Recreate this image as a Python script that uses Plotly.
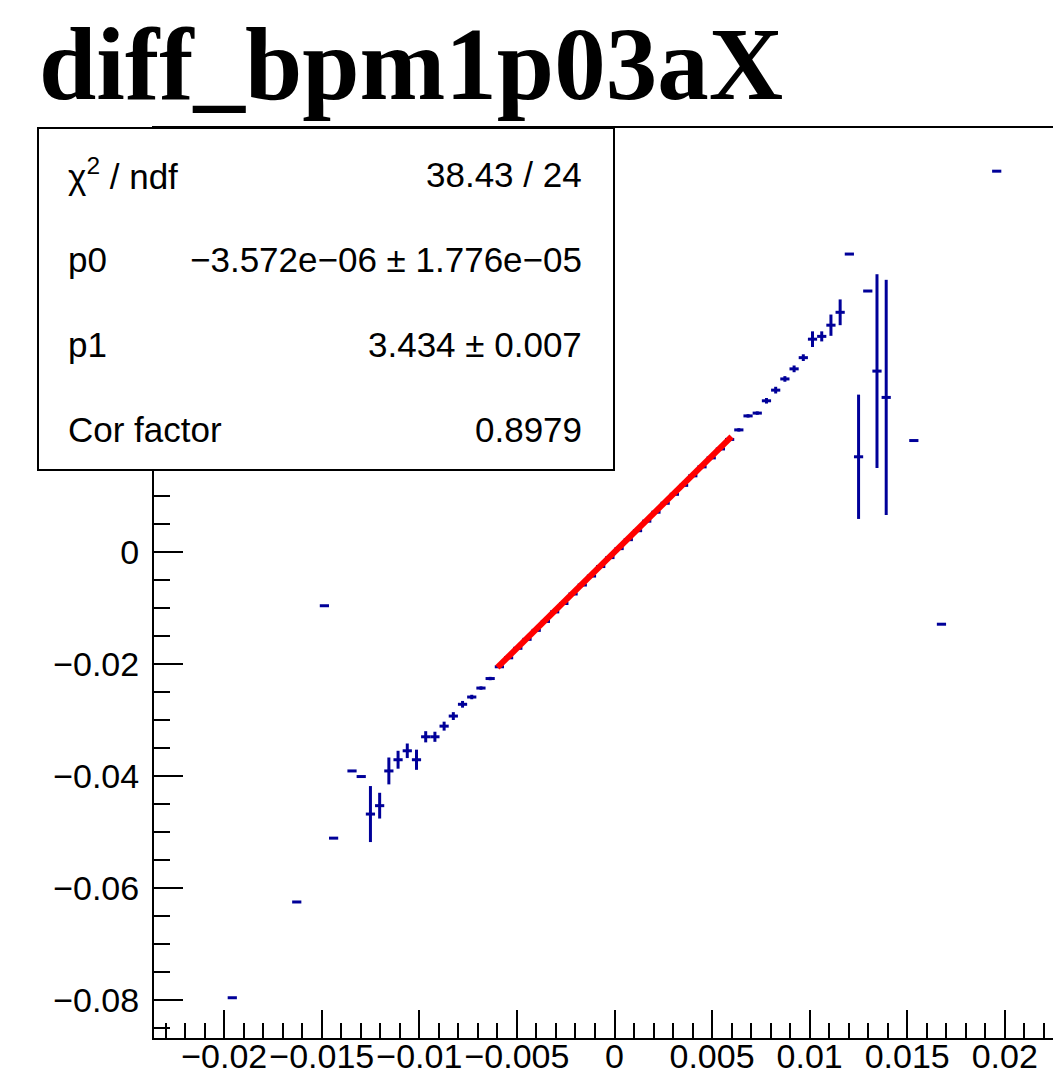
import plotly.graph_objects as go

# ---- data ----
bin_x = [-0.019588, -0.016284, -0.014868, -0.014396, -0.013452, -0.012980, -0.012508,
         -0.012036, -0.011564, -0.011092, -0.010620, -0.010148, -0.009676, -0.009204,
         -0.008732, -0.008260, -0.007788, -0.007316, -0.006844, -0.006372,
         -0.005900, -0.005428, -0.004956, -0.004484, -0.004012, -0.003540, -0.003068,
         -0.002596, -0.002124, -0.001652, -0.001180, -0.000708, -0.000236,
         0.000236, 0.000708, 0.001180, 0.001652, 0.002124, 0.002596, 0.003068,
         0.003540, 0.004012, 0.004484, 0.004956, 0.005428, 0.005900,
         0.006372, 0.006844, 0.007316, 0.007788, 0.008260, 0.008732, 0.009204,
         0.009676, 0.010148, 0.010620, 0.011092, 0.011564, 0.012036, 0.012508,
         0.012980, 0.013452, 0.013924, 0.015340, 0.016756, 0.019588]

mean_y = [-0.0796, -0.0625, -0.0096, -0.0511, -0.0391, -0.0401, -0.0468,
          -0.0453, -0.0391, -0.0371, -0.0355, -0.0371, -0.0330, -0.0330,
          -0.0311, -0.0293, -0.0272, -0.0259, -0.0243, -0.0226,
          -0.0205, -0.0189, -0.0172, -0.0156, -0.0140, -0.0124, -0.0107,
          -0.0092, -0.0075, -0.0059, -0.0043, -0.0026, -0.0010,
          0.0006, 0.0022, 0.0038, 0.0055, 0.0071, 0.0087, 0.0103,
          0.0119, 0.0136, 0.0152, 0.0168, 0.0184, 0.0201,
          0.0218, 0.0243, 0.0248, 0.0270, 0.0289, 0.0309, 0.0327,
          0.0347, 0.0380, 0.0385, 0.0405, 0.0428, 0.0532, 0.0170,
          0.0466, 0.0323, 0.0276, 0.0199, -0.0129, 0.0680]

err_y = [0.0, 0.0, 0.0, 0.0, 0.0, 0.0, 0.0050,
         0.0023, 0.0024, 0.0016, 0.0013, 0.0018, 0.0010, 0.0009,
         0.0008, 0.0007, 0.0006, 0.0004, 0.0003, 0.0003,
         0.0002, 0.0002, 0.0002, 0.0002, 0.0002, 0.0002, 0.0002,
         0.0002, 0.0002, 0.0002, 0.0002, 0.0002, 0.0002,
         0.0002, 0.0002, 0.0002, 0.0002, 0.0002, 0.0002, 0.0002,
         0.0002, 0.0002, 0.0002, 0.0002, 0.0002, 0.0002,
         0.0003, 0.0003, 0.0003, 0.0005, 0.0006, 0.0005, 0.0006,
         0.0006, 0.0014, 0.0009, 0.0019, 0.0023, 0.0, 0.0111,
         0.0, 0.0173, 0.0210, 0.0, 0.0, 0.0]

bin_half_width = 0.000236
x_limits = [-0.0236, 0.0236]
y_limits = [-0.08679, 0.07571]

fit_range = [-0.006, 0.006]
p0 = -3.572e-06
p1 = 3.434

title_text = "diff_bpm1p03aX"
stat_labels = ["χ<sup>2</sup> / ndf", "p0", "p1", "Cor factor"]
stat_values = ["38.43 / 24", "−3.572e−06 ± 1.776e−05", "3.434 ± 0.007", "0.8979"]

# ---- figure ----
# the page body adds an 8 px margin; the frame runs past the right edge of the view
OFF = 8
W, H = 1070, 1090 - OFF
L, R, T = 154 - OFF, 3, 128 - OFF
plot_bottom = 1038 - OFF
B = H - plot_bottom
pw, ph = W - L - R, H - T - B

def px_x(px):
    return (px - OFF - L) / pw

def px_y(py):
    return (plot_bottom - (py - OFF)) / ph

blue = "#000099"

fig = go.Figure()
fig.add_trace(go.Scatter(
    x=bin_x, y=mean_y, mode="markers",
    marker=dict(size=0.1, color=blue),
    error_x=dict(type="constant", value=bin_half_width, width=0, thickness=3, color=blue),
    error_y=dict(type="data", array=err_y, width=0, thickness=3, color=blue),
    showlegend=False, hoverinfo="x+y"))

fit_y = [p0 + p1 * fit_range[0], p0 + p1 * fit_range[1]]
fig.add_trace(go.Scatter(
    x=fit_range, y=fit_y, mode="lines",
    line=dict(color="#ff0000", width=6), showlegend=False))

tick_font = dict(family="Liberation Sans, Arial, sans-serif", size=34, color="black")

fig.update_xaxes(
    range=x_limits,
    showgrid=False, zeroline=False,
    showline=True, linecolor="black", linewidth=2, mirror=True,
    ticks="inside", ticklen=28, tickwidth=1.5, tickcolor="black",
    tick0=0, dtick=0.005, tickangle=0, tickfont=tick_font, ticklabelstandoff=-13,
    minor=dict(ticks="inside", ticklen=15, tickwidth=1.5, tickcolor="black", dtick=0.001, tick0=0),
)
fig.update_yaxes(
    range=y_limits,
    showgrid=False, zeroline=False,
    showline=True, linecolor="black", linewidth=2,
    ticks="inside", ticklen=29, tickwidth=1.5, tickcolor="black",
    tick0=0, dtick=0.02, tickfont=tick_font, ticklabelstandoff=6,
    minor=dict(ticks="inside", ticklen=16, tickwidth=1.5, tickcolor="black", dtick=0.005, tick0=0),
)

# stat box
fig.add_shape(type="rect", xref="paper", yref="paper",
              x0=px_x(38), x1=px_x(614), y0=px_y(470), y1=px_y(128),
              fillcolor="white", line=dict(color="black", width=2), layer="above")

row_y = [174, 259, 344, 429]
stat_font = dict(family="Liberation Sans, Arial, sans-serif", size=35, color="black")
for lab, val, ry in zip(stat_labels, stat_values, row_y):
    fig.add_annotation(x=px_x(66), y=px_y(ry), xref="paper", yref="paper",
                       text=lab, showarrow=False, xanchor="left", yanchor="middle",
                       font=stat_font)
    fig.add_annotation(x=px_x(584), y=px_y(ry), xref="paper", yref="paper",
                       text=val, showarrow=False, xanchor="right", yanchor="middle",
                       font=stat_font)

fig.add_annotation(x=px_x(37), y=px_y(64), xref="paper", yref="paper",
                   text="<b>" + title_text + "</b>", showarrow=False,
                   xanchor="left", yanchor="middle",
                   font=dict(family="Liberation Serif, Times New Roman, serif", size=103, color="black"))

fig.update_layout(
    width=W, height=H,
    margin=dict(l=L, r=R, t=T, b=B, pad=0),
    paper_bgcolor="white", plot_bgcolor="white",
    showlegend=False,
)

fig.write_html("out.html")
